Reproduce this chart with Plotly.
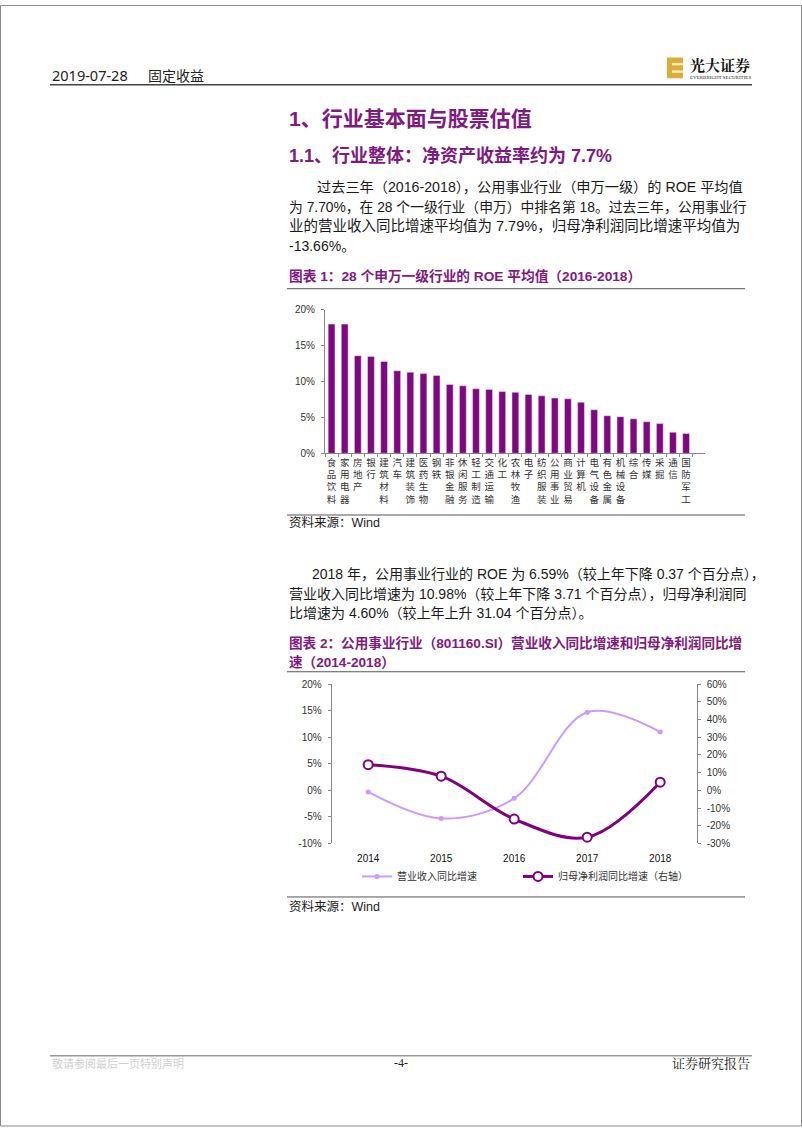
import plotly.graph_objects as go

# ---------------- data ----------------
industries = ["食品饮料", "家用电器", "房地产", "银行", "建筑材料", "汽车", "建筑装饰", "医药生物",
              "钢铁", "非银金融", "休闲服务", "轻工制造", "交通运输", "化工", "农林牧渔", "电子",
              "纺织服装", "公用事业", "商业贸易", "计算机", "电气设备", "有色金属", "机械设备",
              "综合", "传媒", "采掘", "通信", "国防军工"]
roe_avg = [18.0, 18.0, 13.6, 13.5, 12.8, 11.5, 11.3, 11.1, 10.85, 9.6, 9.4, 9.0, 8.9, 8.6,
           8.5, 8.2, 8.0, 7.7, 7.6, 7.1, 6.07, 5.24, 5.1, 4.8, 4.4, 4.14, 2.94, 2.76]
roe_ticks = [0, 5, 10, 15, 20]

years = ["2014", "2015", "2016", "2017", "2018"]
revenue_growth = [-0.3, -5.3, -1.5, 14.69, 10.98]
profit_growth = [14.5, 8.0, -16.2, -26.44, 4.60]
left_ticks = [-10, -5, 0, 5, 10, 15, 20]
right_ticks = [-30, -20, -10, 0, 10, 20, 30, 40, 50, 60]

# ---------------- page geometry helpers ----------------
W, H = 802, 1133
PURPLE = "#7E1A80"
BAR = "#7F077F"
LIGHT = "#CC99FF"
TXT = "#1a1a1a"
FONT = "Liberation Sans, Arial, Noto Sans CJK SC"


def px(x):
    return x / W


def py(y):
    return 1 - y / H


fig = go.Figure()

# ---------------- chart 1: bars ----------------
c1_x0, c1_x1, c1_ytop, c1_ybot = 325, 705, 307.7, 452.7
cat_w = 13.13
fig.add_trace(go.Bar(x=industries, y=roe_avg, marker_color=BAR, width=0.52,
                     showlegend=False, xaxis="x", yaxis="y"))

n_span = (c1_x1 - c1_x0) / cat_w
fig.update_layout(
    xaxis=dict(domain=[px(c1_x0), px(c1_x1)], anchor="y", type="category", range=[-0.5, -0.5 + n_span],
               tickvals=industries, ticktext=["<br>".join(list(s)) for s in industries],
               tickson="boundaries", ticks="outside", ticklen=3, tickcolor="#888", tickangle=0,
               tickfont=dict(size=9.5, color="#333", family="Noto Sans CJK SC"), ticklabelstandoff=0,
               showline=True, linecolor="#888", linewidth=1, showgrid=False, zeroline=False, fixedrange=True),
    yaxis=dict(domain=[py(c1_ybot), py(c1_ytop)], anchor="x", range=[0, 20],
               tickvals=roe_ticks, ticktext=[f"{v}%" for v in roe_ticks],
               ticks="outside", ticklen=3, tickcolor="#888", showline=True, linecolor="#888",
               showgrid=False, zeroline=False, tickfont=dict(size=10, color="#333", family=FONT),
               ticklabelstandoff=4),
)

annotations = []

# ---------------- chart 2: lines, dual axis ----------------
c2_x0, c2_x1, c2_ytop, c2_ybot = 331.7, 696.7, 685.7, 846.7
fig.add_trace(go.Scatter(x=years, y=revenue_growth, name="营业收入同比增速", mode="lines+markers",
                         line=dict(color=LIGHT, width=2, shape="spline", smoothing=1.0),
                         marker=dict(color=LIGHT, size=5), xaxis="x2", yaxis="y2", legend="legend"))
fig.add_trace(go.Scatter(x=years, y=profit_growth, name="归母净利润同比增速（右轴）", mode="lines+markers",
                         line=dict(color="#800080", width=3, shape="spline", smoothing=1.0),
                         marker=dict(color="white", size=9, line=dict(color="#800080", width=2)),
                         xaxis="x2", yaxis="y3", legend="legend2"))

zero_pos = py(c2_ybot) + (0 - left_ticks[0]) / (left_ticks[-1] - left_ticks[0]) * (py(c2_ytop) - py(c2_ybot))

legend_style = dict(orientation="h", y=py(880), xanchor="left", yanchor="middle",
                    font=dict(size=10, color="#333", family="Noto Sans CJK SC"),
                    bgcolor="rgba(0,0,0,0)", itemwidth=30)

fig.update_layout(
    xaxis2=dict(domain=[px(c2_x0), px(c2_x1)], anchor="y2", type="category", range=[-0.5, 4.5],
                showline=False, showgrid=False, zeroline=False, ticks="", fixedrange=True,
                tickfont=dict(size=10, color="#111", family=FONT), ticklabelstandoff=8),
    xaxis3=dict(domain=[px(c2_x0), px(c2_x1)], overlaying="x2", anchor="free", position=zero_pos,
                range=[-0.5, 4.5], tickvals=[0.5, 1.5, 2.5, 3.5], showticklabels=False,
                ticks="outside", ticklen=3, tickcolor="#999", showline=True, linecolor="#999",
                showgrid=False, zeroline=False, fixedrange=True),
    yaxis2=dict(domain=[py(c2_ybot), py(c2_ytop)], anchor="x2", range=[left_ticks[0], left_ticks[-1]],
                tickvals=left_ticks, ticktext=[f"{v}%" for v in left_ticks],
                ticks="outside", ticklen=3, tickcolor="#888", showline=True, linecolor="#888",
                showgrid=False, zeroline=False, tickfont=dict(size=10, color="#333", family=FONT),
                ticklabelstandoff=4),
    yaxis3=dict(overlaying="y2", side="right", anchor="x2", range=[right_ticks[0], right_ticks[-1]],
                tickvals=right_ticks, ticktext=[f"{v}%" for v in right_ticks],
                ticks="outside", ticklen=3, tickcolor="#888", showline=True, linecolor="#888",
                showgrid=False, zeroline=False, tickfont=dict(size=10, color="#333", family=FONT),
                ticklabelstandoff=4),
    legend=dict(x=px(357), **legend_style),
    legend2=dict(x=px(518), **legend_style),
)


# ---------------- page text ----------------
def txt(x, y, s, size=14, color=TXT, bold=False, anchor="left", family=FONT):
    if bold:
        s = f"<b>{s}</b>"
    annotations.append(dict(x=px(x), y=py(y), xref="paper", yref="paper", text=s, showarrow=False,
                            xanchor=anchor, yanchor="middle", font=dict(size=size, color=color, family=family)))


# header
txt(50, 71, "2019-07-28", size=14.5, color="#222", family="Noto Sans, Noto Sans CJK SC")
txt(146, 71, "固定收益", size=14, color="#222", family="Noto Sans CJK SC")
txt(688, 60, "光大证券", size=15, color="#111", bold=True, family="Noto Serif CJK SC, Noto Sans CJK SC")
txt(688, 73, "EVERBRIGHT SECURITIES", size=5, color="#222", family="Liberation Serif")

# headings
txt(287, 115, "1、行业基本面与股票估值", size=21, color=PURPLE, bold=True)
txt(287, 152, "1.1、行业整体：净资产收益率约为 7.7%", size=18, color=PURPLE, bold=True)

# paragraph 1
txt(315, 184, "过去三年（2016-2018），公用事业行业（申万一级）的 ROE 平均值", size=14.2)
txt(287, 204, "为 7.70%，在 28 个一级行业（申万）中排名第 18。过去三年，公用事业行", size=13.8)
txt(287, 223.5, "业的营业收入同比增速平均值为 7.79%，归母净利润同比增速平均值为", size=14.5)
txt(287, 243.5, "-13.66%。", size=14)

# chart 1 title / source
txt(287, 273.5, "图表 1：28 个申万一级行业的 ROE 平均值（2016-2018）", size=13.7, color=PURPLE, bold=True)
txt(287, 523, "资料来源：Wind", size=12.5, color="#222")

# paragraph 2
txt(310, 575, "2018 年，公用事业行业的 ROE 为 6.59%（较上年下降 0.37 个百分点），", size=14)
txt(287, 594.5, "营业收入同比增速为 10.98%（较上年下降 3.71 个百分点），归母净利润同", size=14)
txt(287, 614, "比增速为 4.60%（较上年上升 31.04 个百分点）。", size=14)

# chart 2 title / source
txt(287, 644, "图表 2：公用事业行业（801160.SI）营业收入同比增速和归母净利润同比增", size=13.6, color=PURPLE, bold=True)
txt(287, 663.5, "速（2014-2018）", size=13.6, color=PURPLE, bold=True)
txt(287, 910.5, "资料来源：Wind", size=12.5, color="#222")

# footer
txt(50, 1068, "敬请参阅最后一页特别声明", size=11, color="#d0d0d0", family="Noto Sans CJK SC")
txt(401, 1068, "-4-", size=12, color="#222", anchor="center", family="Liberation Serif")
txt(752, 1068, "证券研究报告", size=13, color="#222", anchor="right", family="Noto Serif CJK SC, Noto Sans CJK SC")

# ---------------- shapes ----------------
shapes = []


def hline(x0, x1, y, color="#444", width=1.0):
    shapes.append(dict(type="line", xref="paper", yref="paper", x0=px(x0), x1=px(x1), y0=py(y), y1=py(y),
                       line=dict(color=color, width=width)))


def rect(x0, y0, x1, y1, fill, line_color=None):
    shapes.append(dict(type="rect", xref="paper", yref="paper", x0=px(x0), x1=px(x1), y0=py(y0), y1=py(y1),
                       fillcolor=fill, line=dict(width=0 if line_color is None else 1,
                                                 color=line_color or fill)))


hline(50, 752, 80.5, "#444", 1.5)          # header rule
hline(287, 745, 286.5, "#555", 1)         # chart 1 title rule
hline(287, 745, 515, "#555", 1)           # chart 1 source rule
hline(287, 745, 673.3, "#555", 1)         # chart 2 title rule
hline(287, 745, 900.7, "#555", 1)         # chart 2 source rule
hline(50, 752, 1061, "#999", 1.5)         # footer rule

# logo mark
rect(667, 53, 683, 74, "#D9AE3A")
rect(672, 58.5, 683, 61, "#F6E7B8")
rect(672, 66, 683, 68.5, "#F6E7B8")

# page border
shapes.append(dict(type="rect", xref="paper", yref="paper", x0=px(0.5), x1=px(801.5), y0=py(1132), y1=py(0.5),
                   line=dict(color="#8a8a8a", width=1), fillcolor="rgba(0,0,0,0)", layer="above"))

fig.update_layout(
    width=W, height=H, autosize=False,
    margin=dict(l=0, r=0, t=0, b=0, pad=0),
    paper_bgcolor="white", plot_bgcolor="white",
    annotations=annotations, shapes=shapes,
    font=dict(family=FONT, color=TXT),
    bargap=0.5,
)

fig.write_html("out.html", config={"displayModeBar": False, "staticPlot": True},
               post_script="document.body.style.margin='0';document.body.style.overflow='hidden';")
